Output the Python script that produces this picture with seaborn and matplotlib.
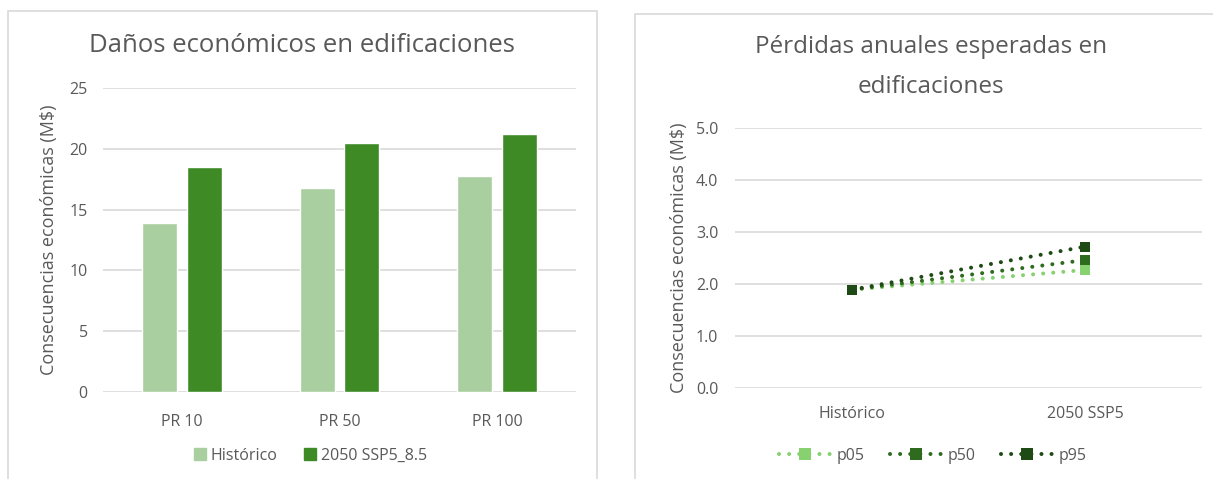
import matplotlib
matplotlib.use("Agg")
import matplotlib.pyplot as plt
from matplotlib.patches import Rectangle
from matplotlib.lines import Line2D
from matplotlib.ticker import FormatStrFormatter
import seaborn as sns
import pandas as pd

# ---- data -------------------------------------------------------------
periodos = ["PR 10", "PR 50", "PR 100"]
danos_historico = [13.9, 16.75, 17.8]
danos_2050 = [18.5, 20.5, 21.25]
series_barras = ["Histórico", "2050 SSP5_8.5"]

escenarios = ["Histórico", "2050 SSP5"]
percentiles = ["p05", "p50", "p95"]
pae_p05 = [1.89, 2.27]
pae_p50 = [1.89, 2.46]
pae_p95 = [1.89, 2.72]

# ---- style ------------------------------------------------------------
sns.set_theme(style="white")
plt.rcParams["font.family"] = ["Open Sans", "DejaVu Sans"]
TXT = "#595959"
GRID = "#D9D9D9"
bar_colors = ["#A9CFA0", "#3E8A25"]
line_colors = ["#88D171", "#2E6B1F", "#1E4A15"]

W, H = 1213, 479
fig = plt.figure(figsize=(W / 100, H / 100), dpi=100)


def px_axes(x0, y_top, x1, y_bot):
    return fig.add_axes([x0 / W, 1 - y_bot / H, (x1 - x0) / W, (y_bot - y_top) / H])


# panel frames
fig.add_artist(Rectangle((8 / W, -0.1), (597 - 8) / W, 1.1 - 11 / H,
                         transform=fig.transFigure, fill=False,
                         edgecolor=GRID, lw=1.2))
fig.add_artist(Rectangle((635 / W, -0.1), 0.6, 1.1 - 14 / H,
                         transform=fig.transFigure, fill=False,
                         edgecolor=GRID, lw=1.2))

# ---- left: bar chart --------------------------------------------------
df_bar = pd.DataFrame({
    "periodo": periodos * 2,
    "valor": danos_historico + danos_2050,
    "serie": [series_barras[0]] * 3 + [series_barras[1]] * 3,
})
ax1 = px_axes(103, 88, 576, 392)
sns.barplot(data=df_bar, x="periodo", y="valor", hue="serie",
            palette=bar_colors, width=0.57, gap=0.22, saturation=1,
            ax=ax1, zorder=3, legend=False)
ax1.set_xlim(-0.5, 2.5)
ax1.set_ylim(0, 25)
ax1.set_yticks(range(0, 26, 5))
ax1.grid(axis="y", color=GRID, lw=1.2, zorder=0)
for s in ax1.spines.values():
    s.set_visible(False)
ax1.tick_params(axis="both", length=0, colors=TXT, labelsize=11.5)
ax1.tick_params(axis="y", pad=11)
ax1.tick_params(axis="x", pad=16)
ax1.set_xlabel("")
ax1.set_ylabel("Consecuencias económicas (M$)", color=TXT, fontsize=13, labelpad=8)
ax1.set_title("")
fig.text(302 / W, 1 - 45 / H, "Daños económicos en edificaciones",
         ha="center", va="center", fontsize=18.5, color=TXT)
h1 = [Line2D([], [], ls="none", marker="s", markersize=8.5, color=c) for c in bar_colors]
fig.legend(h1, series_barras, loc="center", bbox_to_anchor=(310 / W, 1 - 456 / H),
           ncol=2, frameon=False, fontsize=11.5, labelcolor=TXT,
           handlelength=0.8, handletextpad=0.3, columnspacing=1.6)

# ---- right: line chart ------------------------------------------------
df_line = pd.DataFrame({
    "escenario": escenarios * 3,
    "valor": pae_p05 + pae_p50 + pae_p95,
    "percentil": [p for p in percentiles for _ in escenarios],
})
ax2 = px_axes(735, 128, 1202, 388)
dotted = (0, (0.01, 2.5))
sns.lineplot(data=df_line, x="escenario", y="valor", hue="percentil",
             palette=line_colors, marker="s", markersize=7.5, markeredgewidth=0,
             linewidth=2.9, linestyle=dotted, dash_capstyle="round",
             ax=ax2, legend=False, zorder=3)
ax2.set_xlim(-0.5, 1.5)
ax2.set_ylim(0, 5)
ax2.set_yticks([0, 1, 2, 3, 4, 5])
ax2.yaxis.set_major_formatter(FormatStrFormatter("%.1f"))
ax2.grid(axis="y", color=GRID, lw=1.2, zorder=0)
for s in ax2.spines.values():
    s.set_visible(False)
ax2.tick_params(axis="both", length=0, colors=TXT, labelsize=11.5)
ax2.tick_params(axis="y", pad=12)
ax2.tick_params(axis="x", pad=13)
ax2.set_xlabel("")
ax2.set_ylabel("Consecuencias económicas (M$)", color=TXT, fontsize=13, labelpad=6)
fig.text(931 / W, 1 - 47 / H, "Pérdidas anuales esperadas en",
         ha="center", va="center", fontsize=17.5, color=TXT)
fig.text(931 / W, 1 - 87 / H, "edificaciones",
         ha="center", va="center", fontsize=17.5, color=TXT)
h2 = [Line2D([], [], color=c, marker="s", markersize=8, markeredgewidth=0,
             linewidth=2.9, linestyle=dotted, dash_capstyle="round")
      for c in line_colors]
fig.legend(h2, percentiles, loc="center", bbox_to_anchor=(933 / W, 1 - 456 / H),
           ncol=3, frameon=False, fontsize=11.5, labelcolor=TXT,
           handlelength=3.2, handletextpad=0.4, columnspacing=1.6)

fig.savefig("out.png", dpi=100, facecolor="white")
